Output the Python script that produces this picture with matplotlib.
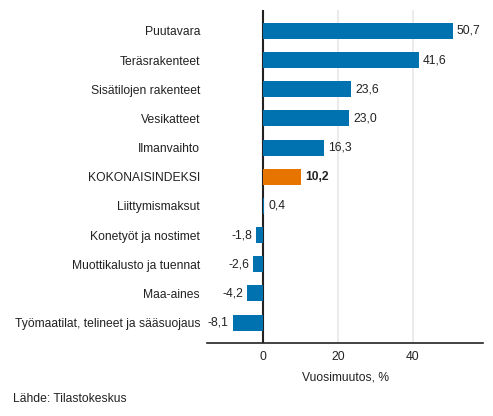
import matplotlib

matplotlib.use('Agg')

import matplotlib.pyplot as plt

plt.rcParams['font.family'] = ['Liberation Sans', 'DejaVu Sans']

categories = ['Puutavara', 'Teräsrakenteet', 'Sisätilojen rakenteet', 'Vesikatteet',
              'Ilmanvaihto', 'KOKONAISINDEKSI', 'Liittymismaksut',
              'Konetyöt ja nostimet', 'Muottikalusto ja tuennat', 'Maa-aines',
              'Työmaatilat, telineet ja sääsuojaus']
values = [50.7, 41.6, 23.6, 23.0, 16.3, 10.2, 0.4, -1.8, -2.6, -4.2, -8.1]
value_labels = ['50,7', '41,6', '23,6', '23,0', '16,3', '10,2', '0,4', '-1,8', '-2,6', '-4,2', '-8,1']
total_name = 'KOKONAISINDEKSI'
xticks = [0, 20, 40]

blue = '#0072b0'
orange = '#e87400'
fs = 8.75

fig = plt.figure(figsize=(4.93, 4.16), dpi=100)
ax = fig.add_axes([0.42, 0.1755, 0.56, 0.8005])

ypos = list(range(len(categories)))[::-1]
colors = [orange if c == total_name else blue for c in categories]
ax.barh(ypos, values, height=0.55, color=colors, zorder=5)

for y, v, lab, c in zip(ypos, values, value_labels, categories):
    weight = 'bold' if c == total_name else 'normal'
    if v >= 0:
        ax.annotate(lab, (v, y), xytext=(3, 0), textcoords='offset points',
                    ha='left', va='center', fontsize=fs, fontweight=weight, color='#222222')
    else:
        ax.annotate(lab, (v, y), xytext=(-3, 0), textcoords='offset points',
                    ha='right', va='center', fontsize=fs, fontweight=weight, color='#222222')

ax.set_xlim(-14.9, 58.8)
ax.set_ylim(-0.7, 10.72)
ax.set_yticks(ypos)
ax.set_yticklabels(categories, fontsize=fs, color='#222222')
ax.set_xticks(xticks)
ax.set_xticklabels([str(t) for t in xticks], fontsize=fs, color='#222222')
ax.tick_params(axis='y', length=0, pad=5)
ax.tick_params(axis='x', length=0, pad=6)

ax.grid(axis='x', color='#ebebeb', linewidth=1.5, zorder=0)
ax.axvline(0, color='#222222', linewidth=1.5, zorder=4)

for side in ['top', 'right', 'left']:
    ax.spines[side].set_visible(False)
ax.spines['bottom'].set_color('#222222')
ax.spines['bottom'].set_linewidth(1.2)

ax.set_xlabel('Vuosimuutos, %', fontsize=fs, color='#222222', labelpad=6)

fig.text(13 / 493, 1 - 399 / 416, 'Lähde: Tilastokeskus', fontsize=fs,
         color='#222222', ha='left', va='center')

fig.savefig('out.png', dpi=100)
